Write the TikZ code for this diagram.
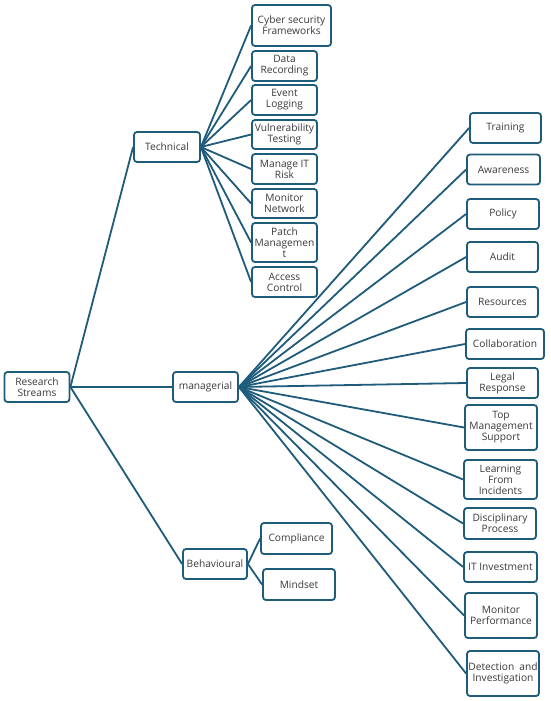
\documentclass[tikz,border=0pt]{standalone}
\usepackage{fontspec}
\setmainfont{Open Sans}
\definecolor{teal}{HTML}{1F5B7A}
\definecolor{txt}{HTML}{3A3A3A}
\tikzset{
  box/.style={draw=teal, line width=1.8pt, rounded corners=3pt, fill=white,
    inner sep=0pt, text=txt, align=center,
    font=\fontsize{10.2}{11}\selectfont},
  conn/.style={draw=teal, line width=1.8pt}
}
\begin{document}
\begin{tikzpicture}[x=1pt,y=-1pt]
\useasboundingbox (0,0) rectangle (550,701);
% main nodes
\node[box, minimum width=65, minimum height=30] (root) at (37,387) {Research\\Streams};
\node[box, minimum width=66, minimum height=30] (tech) at (167,147) {Technical};
\node[box, minimum width=65, minimum height=30] (man) at (205.5,387) {managerial};
\node[box, minimum width=64, minimum height=30] (beh) at (215,564) {Behavioural};
% technical leaves
\node[box, minimum width=79, minimum height=41] (cyber) at (291.5,25.5) {Cyber security\\Frameworks};
\node[box, minimum width=65, minimum height=30] (data) at (284.5,66) {Data\\Recording};
\node[box, minimum width=65, minimum height=30] (event) at (284.5,100) {Event\\Logging};
\node[box, minimum width=65, minimum height=29] (vuln) at (284.5,134.5) {Vulnerability\\Testing};
\node[box, minimum width=65, minimum height=30] (risk) at (284.5,169) {Manage IT\\Risk};
\node[box, minimum width=65, minimum height=29] (monnet) at (284.5,203.5) {Monitor\\Network};
\node[box, minimum width=65, minimum height=39] (patch) at (284.5,242.5) {Patch\\Managemen\\t};
\node[box, minimum width=65, minimum height=30] (access) at (284.5,282) {Access\\Control};
% managerial leaves
\node[box, minimum width=71, minimum height=30] (train) at (505.5,128) {Training};
\node[box, minimum width=73, minimum height=30] (aware) at (503.5,169.5) {Awareness};
\node[box, minimum width=72, minimum height=30] (policy) at (503,214) {Policy};
\node[box, minimum width=71, minimum height=30] (audit) at (502.5,257) {Audit};
\node[box, minimum width=71, minimum height=30] (res) at (502.5,302) {Resources};
\node[box, minimum width=78, minimum height=30] (collab) at (505,344) {Collaboration};
\node[box, minimum width=71, minimum height=30] (legal) at (502.5,383) {Legal\\Response};
\node[box, minimum width=72, minimum height=45] (top) at (501,427.5) {Top\\Management\\Support};
\node[box, minimum width=73, minimum height=39] (learn) at (500.5,479.5) {Learning\\From\\Incidents};
\node[box, minimum width=72, minimum height=31] (disc) at (500,523.5) {Disciplinary\\Process};
\node[box, minimum width=73, minimum height=30] (itinv) at (500.5,567) {IT Investment};
\node[box, minimum width=72, minimum height=45] (monperf) at (501,615.5) {Monitor\\Performance};
\node[box, minimum width=72, minimum height=45] (detect) at (503,673.5) {Detection\enspace and\\Investigation};
% behavioural leaves
\node[box, minimum width=71, minimum height=31] (comp) at (296.5,538.5) {Compliance};
\node[box, minimum width=72, minimum height=31] (mind) at (299,584.5) {Mindset};
% connectors
\foreach \t in {tech,man,beh} \draw[conn] (root.east) -- (\t.west);
\foreach \t in {cyber,data,event,vuln,risk,monnet,patch,access} \draw[conn] (tech.east) -- (\t.west);
\foreach \t in {train,aware,policy,audit,res,collab,legal,top,learn,disc,itinv,monperf,detect} \draw[conn] (man.east) -- (\t.west);
\foreach \t in {comp,mind} \draw[conn] (beh.east) -- (\t.west);
\end{tikzpicture}
\end{document}
